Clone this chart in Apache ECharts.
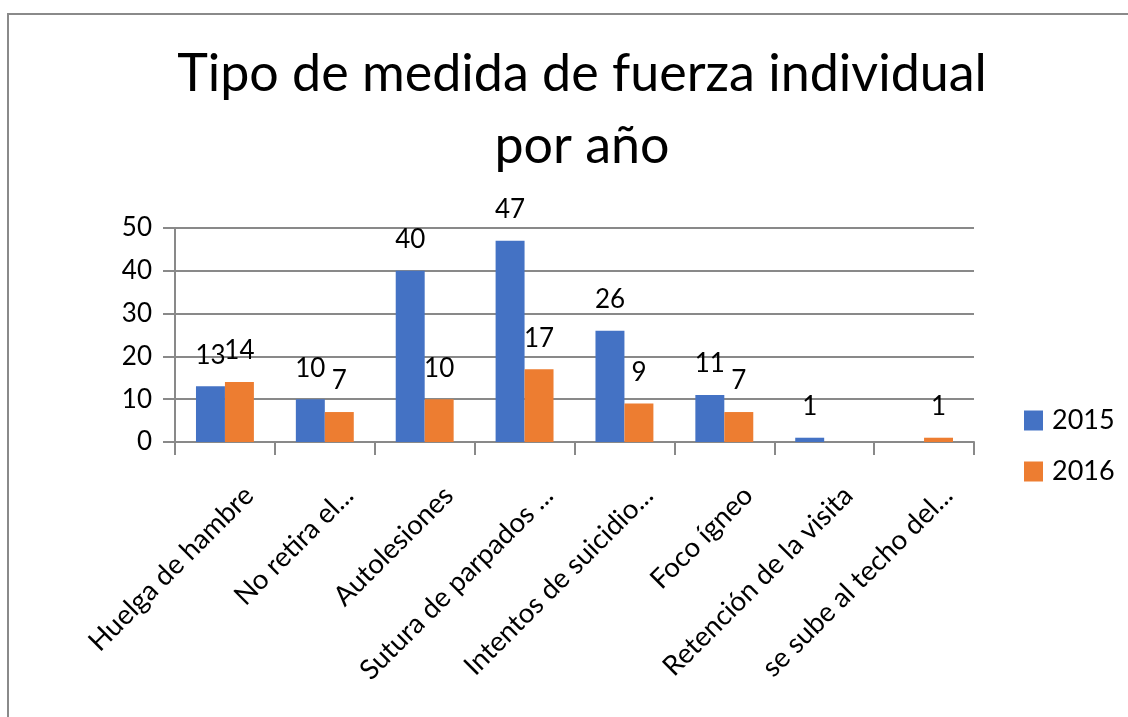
<!DOCTYPE html>
<html>
<head>
<meta charset="utf-8">
<script src="https://cdn.jsdelivr.net/npm/echarts@6/dist/echarts.min.js"></script>
<style>
html,body{margin:0;padding:0;background:#fff;}
#frame{position:absolute;left:7px;top:13px;width:1200px;height:800px;border-top:2px solid #8a8a8a;border-left:2px solid #8a8a8a;box-sizing:border-box;}
#chart{position:absolute;left:0;top:0;width:1128px;height:717px;}
</style>
</head>
<body>
<div id="frame"></div>
<div id="chart"></div>
<script>
const categories = ["Huelga de hambre","No retira el...","Autolesiones","Sutura de parpados ...","Intentos de suicidio...","Foco ígneo","Retención de la visita","se sube al techo del..."];
const values2015 = [13, 10, 40, 47, 26, 11, 1, null];
const values2016 = [14, 7, 10, 17, 9, 7, null, 1];
const seriesNames = ["2015", "2016"];
const yTicks = [0, 10, 20, 30, 40, 50];

const FONT = "Lato";
const chart = echarts.init(document.getElementById('chart'));
const labelStyle = {show: true, position: 'top', distance: 18, fontFamily: FONT, fontSize: 26, color: '#000'};
chart.setOption({
  animation: false,
  backgroundColor: 'transparent',
  title: {
    text: 'Tipo de medida de fuerza individual\npor año',
    left: 577, top: 33, textAlign: 'center',
    textStyle: {fontFamily: FONT, fontSize: 52, fontWeight: 'normal', color: '#000', lineHeight: 72}
  },
  legend: {
    orient: 'vertical', left: 1019, top: 402,
    itemWidth: 19, itemHeight: 20, itemGap: 24,
    icon: 'rect',
    textStyle: {fontFamily: FONT, fontSize: 27, color: '#000', padding: [0,0,0,4]},
    data: seriesNames
  },
  grid: {left: 175, right: 154, top: 228, bottom: 275, containLabel: false},
  xAxis: {
    type: 'category', data: categories,
    axisLine: {lineStyle: {color: '#898989', width: 2}},
    axisTick: {show: true, length: 13, lineStyle: {color: '#898989', width: 2}, alignWithLabel: false},
    axisLabel: {rotate: 45, interval: 0, margin: 73, padding: [0, -34, 0, 0], fontFamily: FONT, fontSize: 27.5, color: '#000'}
  },
  yAxis: {
    type: 'value', min: yTicks[0], max: yTicks[yTicks.length-1], interval: 10,
    axisLine: {show: true, lineStyle: {color: '#898989', width: 2}},
    axisTick: {show: true, length: 12, lineStyle: {color: '#898989', width: 2}},
    splitLine: {lineStyle: {color: '#898989', width: 2}},
    axisLabel: {margin: 23, fontFamily: FONT, fontSize: 26, color: '#000'}
  },
  series: [
    {name: seriesNames[0], type: 'bar', data: values2015, barGap: '0%', barCategoryGap: '42%',
     itemStyle: {color: '#4472C4'}, label: labelStyle},
    {name: seriesNames[1], type: 'bar', data: values2016, barGap: '0%', barCategoryGap: '42%',
     itemStyle: {color: '#ED7D31'}, label: labelStyle}
  ]
});
</script>
</body>
</html>
